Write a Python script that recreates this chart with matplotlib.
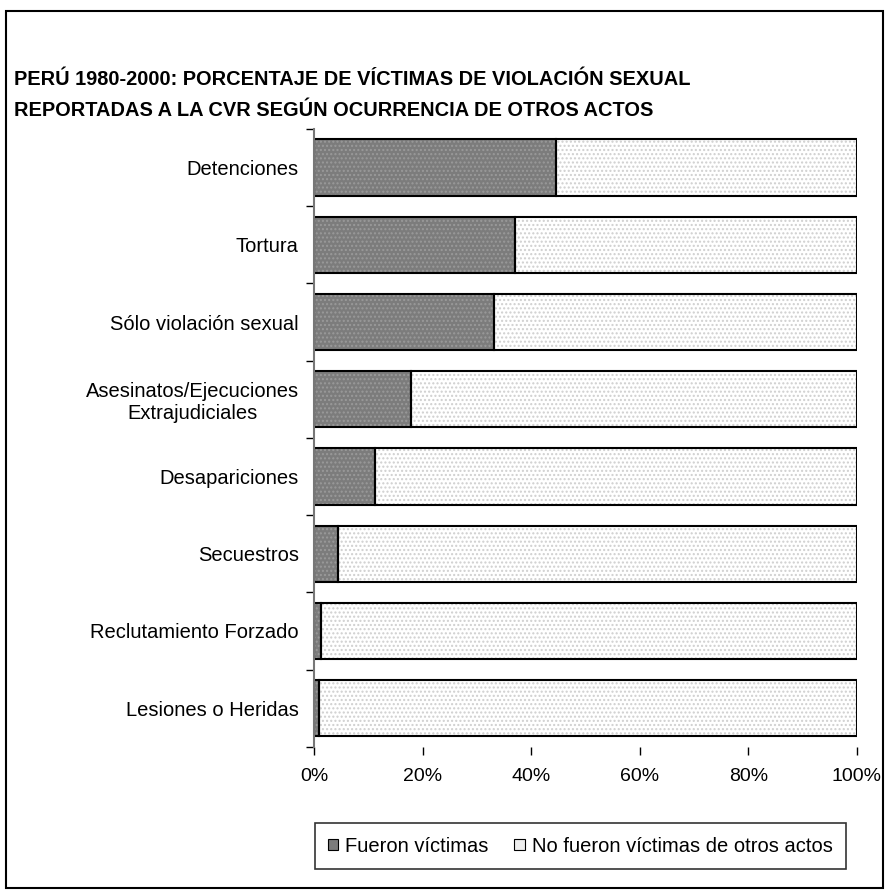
import numpy as np
import matplotlib.pyplot as plt
from matplotlib.patches import Rectangle

plt.rcParams['font.family'] = ['Liberation Sans', 'DejaVu Sans']

categorias = ["Detenciones", "Tortura", "Sólo violación sexual",
              "Asesinatos/Ejecuciones\nExtrajudiciales", "Desapariciones",
              "Secuestros", "Reclutamiento Forzado", "Lesiones o Heridas"]
fueron = [44.5, 37.0, 33.1, 17.9, 11.3, 4.4, 1.2, 0.9]
no_fueron = [100 - v for v in fueron]
xticks = [0, 20, 40, 60, 80, 100]
titulo = ("PERÚ 1980-2000: PORCENTAJE DE VÍCTIMAS DE VIOLACIÓN SEXUAL\n"
          "REPORTADAS A LA CVR SEGÚN OCURRENCIA DE OTROS ACTOS")

fig = plt.figure(figsize=(8.87, 8.90), dpi=100)
ax = fig.add_axes([0.354, 0.161, 0.612, 0.694])

y = np.arange(len(categorias))
h = 0.73

# relleno punteado (hatch) y luego contorno negro encima
ax.barh(y, fueron, height=h, color='#7c7c7c', edgecolor='#9a9a9a', hatch='....', linewidth=0)
ax.barh(y, no_fueron, left=fueron, height=h, color='white', edgecolor='#cfcfcf', hatch='....', linewidth=0)
ax.barh(y, fueron, height=h, fill=False, edgecolor='black', linewidth=1.5)
ax.barh(y, no_fueron, left=fueron, height=h, fill=False, edgecolor='black', linewidth=1.5)

ax.set_ylim(len(categorias) - 0.5, -0.5)
ax.set_xlim(0, 100)
ax.set_yticks(y)
ax.set_yticklabels(categorias, fontsize=14.5, multialignment='center')
ax.tick_params(axis='y', length=0, pad=11)
ax.set_yticks(np.arange(-0.5, len(categorias), 1), minor=True)
ax.tick_params(axis='y', which='minor', length=6, width=1, direction='out')
ax.set_xticks(xticks)
ax.set_xticklabels([f"{t}%" for t in xticks], fontsize=14)
ax.tick_params(axis='x', length=6, width=1, pad=9)

for s in ['top', 'right', 'bottom']:
    ax.spines[s].set_visible(False)
ax.spines['left'].set_color('#777777')
ax.spines['left'].set_linewidth(1.5)

fig.text(0.016, 0.921, titulo, fontsize=14.4, fontweight='bold', va='top', linespacing=1.8)

handles = [Rectangle((0, 0), 1, 1, facecolor='#7c7c7c', edgecolor='black', linewidth=0.8),
           Rectangle((0, 0), 1, 1, facecolor='#eeeeee', edgecolor='black', linewidth=0.8)]
leg = fig.legend(handles, ["Fueron víctimas", "No fueron víctimas de otros actos"],
                 loc='center', bbox_to_anchor=(0.654, 0.0494), ncol=2, fontsize=14.5,
                 frameon=True, fancybox=False, handlelength=0.5, handleheight=0.5,
                 handletextpad=0.35, columnspacing=1.3, borderpad=0.65)
leg.get_frame().set_edgecolor('black')
leg.get_frame().set_linewidth(1.2)

fig.patches.append(Rectangle((0.007, 0.002), 0.989, 0.986, transform=fig.transFigure,
                             fill=False, edgecolor='black', linewidth=1.5))

fig.savefig("out.png", dpi=100)
